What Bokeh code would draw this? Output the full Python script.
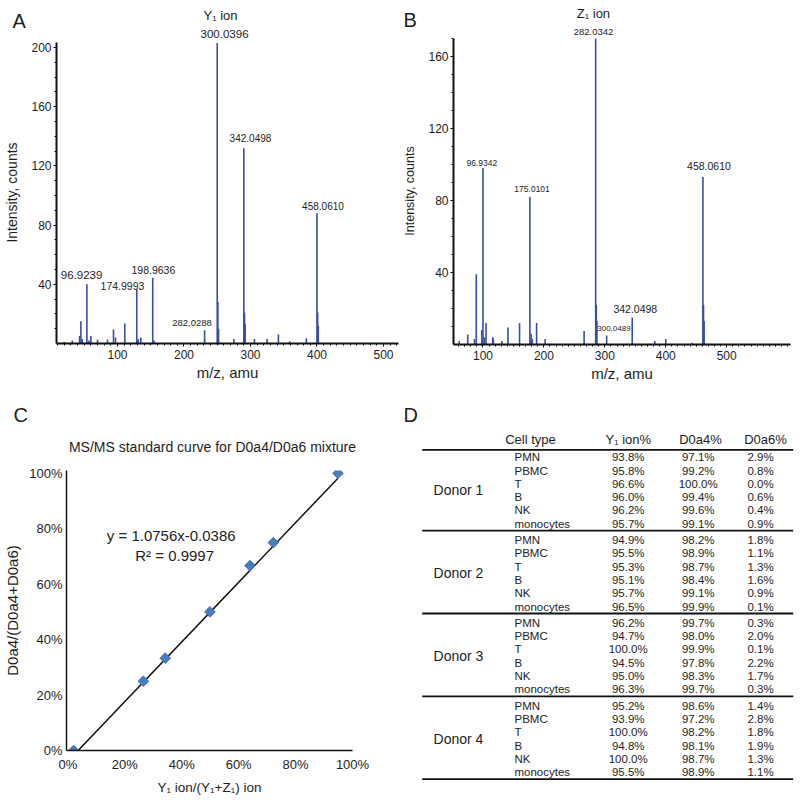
import math
from bokeh.plotting import figure
from bokeh.models import Range1d, FixedTicker
from bokeh.layouts import column, row
from bokeh.core.properties import value
from bokeh.embed import file_html
from bokeh.resources import INLINE

# ---------------- data ----------------
# Panel A: spectrum (axis position, intensity counts)
a_mz = [20, 32, 43, 45, 47, 54, 57, 60, 70, 85, 94, 97, 111, 129, 131, 135,
        153, 155, 231, 250, 251, 252, 275, 290, 291, 292, 306, 325, 342, 359,
        384, 400, 401, 402]
a_int = [1, 2, 5, 15, 3, 40, 2, 5, 2.5, 2.5, 9.5, 4, 13.5, 36.5, 3, 4,
         44.5, 2, 9, 203, 28, 10, 3, 132, 21, 13, 3, 3, 6, 1.5,
         3.5, 88, 21, 12]
a_labels = ["96.9239", "174.9993", "198.9636", "282.0288", "300.0396", "342.0498", "458.0610"]
a_ion = "Y\u2081 ion"
a_yticks = [40, 80, 120, 160, 200]
a_xticks = [100, 200, 300, 400, 500]

# Panel B: spectrum
b_mz = [61, 75, 86, 89, 98, 100, 102, 105, 116, 117, 131, 141, 160, 177, 179,
        181, 188, 202, 266, 285, 286, 287, 303, 345, 382, 400, 443, 461, 462, 463]
b_int = [2, 5.5, 3, 39, 8, 98, 4, 12, 4, 3, 2, 9.5, 12, 82, 6,
         3, 12, 3, 7.5, 170, 22, 13, 5, 15, 2, 3, 1, 93, 22, 13]
b_labels = ["96.9342", "175.0101", "282.0342", "458.0610", "342.0498", "300.0489"]
b_ion = "Z\u2081 ion"
b_yticks = [40, 80, 120, 160]
b_xticks = [100, 200, 300, 400, 500]

# Panel C: standard curve
c_x = [0.02, 0.265, 0.342, 0.499, 0.640, 0.722, 0.949]
c_y = [0.0, 0.25, 0.333, 0.50, 0.667, 0.75, 1.0]
c_slope = 1.0756
c_intercept = -0.0386
c_r2 = 0.9997
c_ticks = [0, 0.2, 0.4, 0.6, 0.8, 1.0]

# Panel D: table
cell_types = ["PMN", "PBMC", "T", "B", "NK", "monocytes"]
donors = ["Donor 1", "Donor 2", "Donor 3", "Donor 4"]
headers = ["Cell type", "Y\u2081 ion%", "D0a4%", "D0a6%"]
y1_pct = [[93.8, 95.8, 96.6, 96.0, 96.2, 95.7],
          [94.9, 95.5, 95.3, 95.1, 95.7, 96.5],
          [96.2, 94.7, 100.0, 94.5, 95.0, 96.3],
          [95.2, 93.9, 100.0, 94.8, 100.0, 95.5]]
d0a4_pct = [[97.1, 99.2, 100.0, 99.4, 99.6, 99.1],
            [98.2, 98.9, 98.7, 98.4, 99.1, 99.9],
            [99.7, 98.0, 99.9, 97.8, 98.3, 99.7],
            [98.6, 97.2, 98.2, 98.1, 98.7, 98.9]]
d0a6_pct = [[2.9, 0.8, 0.0, 0.6, 0.4, 0.9],
            [1.8, 1.1, 1.3, 1.6, 0.9, 0.1],
            [0.3, 2.0, 0.1, 2.2, 1.7, 0.3],
            [1.4, 2.8, 1.8, 1.9, 1.3, 1.1]]

# ---------------- layout / styles ----------------
FONT = "Liberation Sans"
BLUE = "#3a4ea2"
TXT = "#1e1e1e"
WL, WR = 400, 394      # left / right column widths
HT, HB = 401, 396      # top / bottom row heights


def fig(w, h, xr, yr, left=0, right=0, top=0, bottom=0, axes=True):
    p = figure(width=w, height=h, output_backend="svg", toolbar_location=None,
               x_range=xr, y_range=yr, min_border_left=left, min_border_right=right,
               min_border_top=top, min_border_bottom=bottom)
    p.frame_align = False
    p.title.visible = False
    p.xgrid.visible = False
    p.ygrid.visible = False
    p.outline_line_color = None
    p.background_fill_color = "white"
    p.border_fill_color = "white"
    if not axes:
        p.xaxis.visible = False
        p.yaxis.visible = False
    return p


def txt(p, xs, ys, texts, size, align="center", baseline="middle", angle=0.0):
    p.text(x=xs, y=ys, text=texts, text_font=value(FONT), text_font_size=f"{size}px",
           text_align=align, text_baseline=baseline, text_color=TXT, angle=angle)


def spec_axes(p, xt, xminor, yt, yminor, ybounds, ylabel_size):
    for ax in (p.xaxis[0], p.yaxis[0]):
        ax.axis_line_width = 2
        ax.axis_line_color = "#111111"
        ax.major_tick_line_color = "#111111"
        ax.minor_tick_line_color = "#111111"
        ax.major_tick_out = 3
        ax.major_tick_in = 0
        ax.minor_tick_out = 2
        ax.minor_tick_in = 0
        ax.major_label_text_font = FONT
        ax.major_label_text_color = TXT
        ax.major_label_text_font_size = "12px"
        ax.axis_label_text_font = FONT
        ax.axis_label_text_font_style = "normal"
        ax.axis_label_text_color = TXT
    p.xaxis[0].ticker = FixedTicker(ticks=xt, minor_ticks=xminor)
    p.yaxis[0].ticker = FixedTicker(ticks=yt, minor_ticks=yminor)
    p.yaxis[0].bounds = ybounds
    p.xaxis[0].major_label_standoff = 3
    p.yaxis[0].major_label_standoff = 2
    p.xaxis[0].axis_label = "m/z, amu"
    p.xaxis[0].axis_label_text_font_size = "15px"
    p.xaxis[0].axis_label_standoff = 2
    p.yaxis[0].axis_label = "Intensity, counts"
    p.yaxis[0].axis_label_text_font_size = f"{ylabel_size}px"
    p.yaxis[0].axis_label_standoff = 8


def spectrum(w, hdr, mz, inten, labels, lab_pos, top_idx, top_hy, ion, ion_pos,
             letter, letter_pos, x0, x1, axis_top, px_per_count, left, right, frame_bottom,
             xt, xminor, yt, yminor, ylabel_size):
    main_h = HT - hdr
    bottom = main_h - (frame_bottom - hdr)
    ytop = (frame_bottom - hdr) / px_per_count
    p = fig(w, main_h, Range1d(x0, x1), Range1d(0, ytop), left=left, right=right,
            top=0, bottom=bottom)
    spec_axes(p, xt, xminor, yt, yminor, (0, axis_top), ylabel_size)
    p.segment(x0=mz, y0=[0] * len(mz), x1=mz, y1=inten, line_color=BLUE, line_width=1.6)
    # header strip above the frame, sharing the same x mapping
    scale = (w - left - right) / (x1 - x0)
    h = fig(w, hdr, Range1d(x0 - left / scale, x1 + right / scale), Range1d(hdr, 0), axes=False)
    for k, (t, (x, y, s)) in enumerate(zip(labels, lab_pos)):
        if k == top_idx:
            txt(h, [x], [top_hy], [t], s)
        else:
            txt(p, [x], [y], [t], s)
    txt(h, [ion_pos[0]], [ion_pos[1]], [ion], 13)
    txt(h, [letter_pos[0]], [letter_pos[1]], [letter], 20, align="left")
    return column(h, p)


# A frame: x 56..398 px, y 41..343 px (1.48 px per count)
colA = spectrum(WL, 41, a_mz, a_int, a_labels,
                [(46, 46, 11.5), (107.5, 39, 10.5), (154, 50, 10.5), (212, 14, 9.5),
                 (261, None, 11.5), (300, 139, 10), (409, 93, 10)],
                4, 33.5, a_ion, (255, 15), "A", (-57.9, 20),
                8.3, 522.6, 203.4, 1.48, 56, 2, 343,
                a_xticks, list(range(10, 530, 10)), a_yticks, list(range(10, 205, 10)), 14)

# B frame: x 447..790 px, y 37..344 px (1.8 px per count)
colB = spectrum(WR, 37, b_mz, b_int, b_labels,
                [(98, 101, 8.5), (180.6, 86.5, 8.5), (287, None, 9.5), (471, 99, 10.5),
                 (350, 19.8, 10.5), (315, 9, 8)],
                2, 31, b_ion, (287, 13.3), "B", (-19.4, 19),
                51.6, 604.8, 170, 1.8, 47, 4, 344,
                b_xticks, list(range(60, 605, 10)), b_yticks, list(range(10, 171, 10)), 12.5)

# ---------------- Panel C ----------------
HC = 61
hC = fig(WL, HC, Range1d(0, WL), Range1d(HC, 0), axes=False)
txt(hC, [13], [13.5], ["C"], 20, align="left")
txt(hC, [212], [45], ["MS/MS standard curve for D0a4/D0a6 mixture"], 14)

pC = fig(WL, HB - HC, Range1d(-0.005, 1.0), Range1d(0, 1.01), left=66, right=48, top=8,
         bottom=HB - HC - 291)
for ax in (pC.xaxis[0], pC.yaxis[0]):
    ax.ticker = FixedTicker(ticks=c_ticks)
    ax.axis_line_width = 1.5
    ax.axis_line_color = "#111111"
    ax.major_tick_out = 0
    ax.major_tick_in = 0
    ax.minor_tick_out = 0
    ax.minor_tick_in = 0
    ax.major_label_text_font = FONT
    ax.major_label_text_font_size = "13px"
    ax.major_label_text_color = TXT
    ax.major_label_overrides = {t: f"{round(t * 100)}%" for t in c_ticks}
    ax.axis_label_text_font = FONT
    ax.axis_label_text_font_style = "normal"
    ax.axis_label_text_color = TXT
pC.xaxis[0].major_label_standoff = 6
pC.yaxis[0].major_label_standoff = 4
pC.xaxis[0].axis_label = "Y\u2081 ion/(Y\u2081+Z\u2081) ion"
pC.xaxis[0].axis_label_text_font_size = "13.5px"
pC.xaxis[0].axis_label_standoff = 5
pC.yaxis[0].axis_label = "D0a4/(D0a4+D0a6)"
pC.yaxis[0].axis_label_text_font_size = "15px"
pC.yaxis[0].axis_label_standoff = 5
fit_x = [min(c_x), max(c_x)]
fit_y = [c_slope * v + c_intercept for v in fit_x]
pC.line(fit_x, fit_y, line_color="#111111", line_width=1.5)
pC.scatter(c_x, c_y, marker="square", angle=math.pi / 4, size=7.5,
           fill_color="#4a7ebb", line_color="#3f6fae")
txt(pC, [0.363], [0.775], [f"y = {c_slope}x{c_intercept}"], 15)
txt(pC, [0.375], [0.705], [f"R\u00b2 = {c_r2}"], 15)
colC = column(hC, pC)

# ---------------- Panel D ----------------
pD = fig(WR, HB, Range1d(0, WR), Range1d(HB, 0), axes=False)
ROW0, ROWH, GAP = 55.7, 13.3, 3.0
X_DONOR, X_CELL, X_Y1, X_A4, X_A6 = 58, 114, 227.7, 297.7, 360
X_HEAD = [130, 227.8, 300, 365]
L0, L1 = 21.7, 392.7

cell_x, cell_y, cell_t = [], [], []
num_x, num_y, num_t = [], [], []
don_y, sep_y = [], []
for g in range(len(donors)):
    ys = []
    for i, ct in enumerate(cell_types):
        r = g * len(cell_types) + i
        y = ROW0 + ROWH * r + GAP * g
        ys.append(y)
        cell_x.append(X_CELL); cell_y.append(y); cell_t.append(ct)
        for xc, arr in ((X_Y1, y1_pct), (X_A4, d0a4_pct), (X_A6, d0a6_pct)):
            num_x.append(xc); num_y.append(y); num_t.append(f"{arr[g][i]:.1f}%")
    don_y.append(sum(ys) / len(ys))
    sep_y.append(ys[-1] + 7.0)

txt(pD, cell_x, cell_y, cell_t, 11.5, align="left")
txt(pD, num_x, num_y, num_t, 11.5)
txt(pD, [X_DONOR] * len(donors), don_y, donors, 14)
txt(pD, X_HEAD, [ROW0 - 18.0] * len(headers), headers, 13)
line_y = [ROW0 - 7.4] + sep_y
pD.segment(x0=[L0] * len(line_y), y0=line_y, x1=[L1] * len(line_y), y1=line_y,
           line_color="#111111", line_width=1.8)
txt(pD, [3], [13.5], ["D"], 20, align="left")

layout = column(row(colA, colB), row(colC, pD))
open("out.html", "w").write(file_html(layout, INLINE))
